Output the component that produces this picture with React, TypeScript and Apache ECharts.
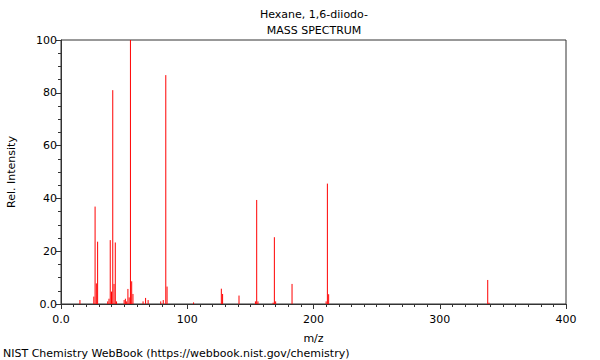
import React, { useEffect, useRef } from "react";
import * as echarts from "echarts";

const titleLine1 = "Hexane, 1,6-diiodo-";
const titleLine2 = "MASS SPECTRUM";
const footer = "NIST Chemistry WebBook (https://webbook.nist.gov/chemistry)";
const xName = "m/z";
const yName = "Rel. Intensity";

const mz = [15, 26, 27, 28, 29, 37, 38, 39, 40, 41, 42, 43, 44, 50, 51, 52, 53, 54, 55, 56, 57, 65, 67, 69, 79, 81, 83, 84, 105, 127, 128, 141, 154, 155, 156, 168, 169, 170, 183, 210, 211, 212, 338, 339];
const intensity = [1.5, 2.8, 36.9, 7.8, 23.6, 1.0, 2.0, 24.2, 4.7, 81.0, 7.6, 23.3, 1.0, 1.5, 2.0, 1.0, 5.7, 2.5, 100, 8.6, 3.8, 1.0, 2.3, 1.5, 1.0, 1.5, 86.7, 6.6, 0.6, 5.8, 3.8, 3.2, 1.0, 39.4, 1.0, 0.5, 25.3, 1.0, 7.6, 1.0, 45.6, 3.7, 9.1, 0.5];

const xMin = 0, xMax = 400, xStep = 100;
const yMin = 0, yMax = 100, yStep = 20;

const FONT = "DejaVu Sans";

export default function App() {
  const ref = useRef<HTMLDivElement>(null);
  useEffect(() => {
    if (!ref.current) return;
    const chart = echarts.init(ref.current, null, { renderer: "svg" });
    const data = mz.map((m, i) => [m, intensity[i]]);
    const axisColor = "#333";
    chart.setOption({
      animation: false,
      textStyle: { fontFamily: FONT },
      grid: {
        left: 61, right: 34, top: 40, bottom: 56,
        containLabel: false, outerBoundsMode: "none",
        show: true, borderColor: axisColor, borderWidth: 1, backgroundColor: "transparent",
      },
      graphic: [
        { type: "text", x: 314, y: 14, style: { text: titleLine1, font: `11px '${FONT}'`, fill: "#000", textAlign: "center", textVerticalAlign: "middle" } },
        { type: "text", x: 314, y: 30, style: { text: titleLine2, font: `11px '${FONT}'`, fill: "#000", textAlign: "center", textVerticalAlign: "middle" } },
        { type: "text", x: 3, y: 353, style: { text: footer, font: `11px '${FONT}'`, fill: "#000", textAlign: "left", textVerticalAlign: "middle" } },
      ],
      xAxis: {
        type: "value", min: xMin, max: xMax, interval: xStep,
        name: xName, nameLocation: "middle", nameGap: 29,
        nameTextStyle: { fontSize: 11, color: "#000", fontFamily: FONT },
        axisLine: { show: true, lineStyle: { color: axisColor, width: 1 } },
        axisTick: { show: true, length: 5, lineStyle: { color: axisColor } },
        minorTick: { show: true, splitNumber: 10, length: 3, lineStyle: { color: axisColor } },
        splitLine: { show: false },
        axisLabel: { fontSize: 11, color: "#000", margin: 10, formatter: (v: number) => (v === 0 ? "0.0" : String(v)) },
      },
      yAxis: {
        type: "value", min: yMin, max: yMax, interval: yStep,
        name: yName, nameLocation: "middle", nameGap: 44, nameRotate: 90,
        nameTextStyle: { fontSize: 11, color: "#000", fontFamily: FONT },
        axisLine: { show: true, lineStyle: { color: axisColor, width: 1 } },
        axisTick: { show: true, length: 5, lineStyle: { color: axisColor } },
        minorTick: { show: true, splitNumber: 4, length: 3, lineStyle: { color: axisColor } },
        splitLine: { show: false },
        axisLabel: { fontSize: 11, color: "#000", margin: 4, formatter: (v: number) => (v === 0 ? "0.0" : String(v)) },
      },
      series: [
        {
          type: "custom",
          data,
          encode: { x: 0, y: 1 },
          clip: true,
          renderItem: (params: any, api: any) => {
            const x = api.value(0);
            const y = api.value(1);
            const p0 = api.coord([x, 0]);
            const p1 = api.coord([x, y]);
            return {
              type: "line",
              shape: { x1: p0[0], y1: p0[1], x2: p1[0], y2: p1[1] },
              style: { stroke: "#ff0000", lineWidth: 1 },
            };
          },
        },
      ],
    });
    return () => chart.dispose();
  }, []);
  return <div ref={ref} style={{ width: 600, height: 360, position: "absolute", left: 0, top: 0 }} />;
}
